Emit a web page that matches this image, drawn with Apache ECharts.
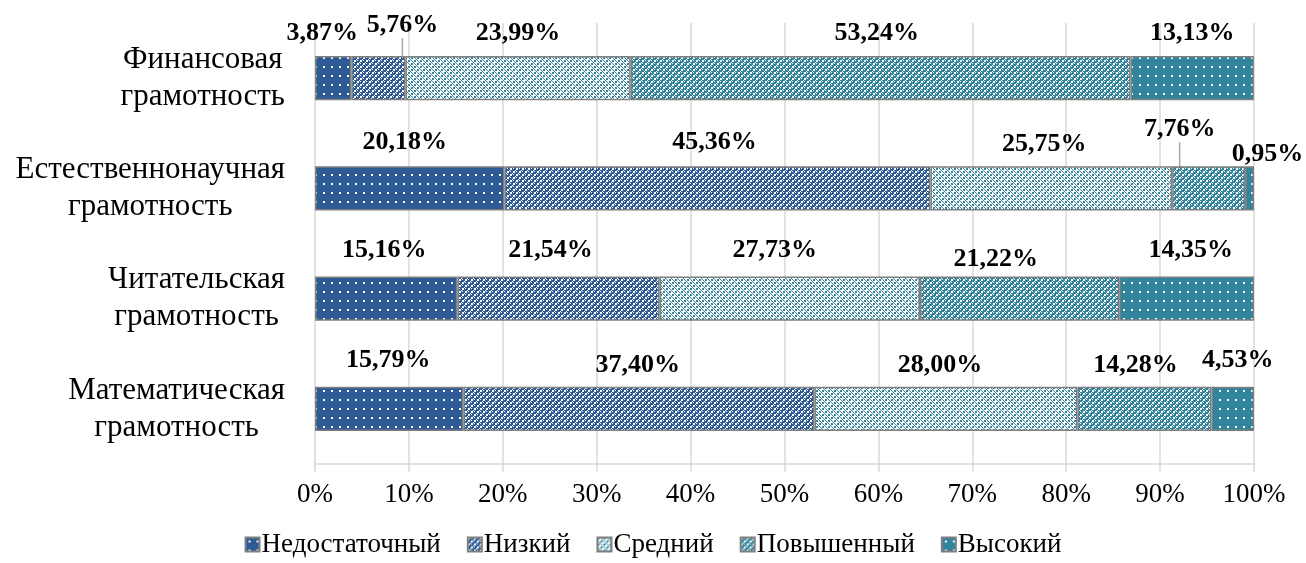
<!DOCTYPE html>
<html>
<head>
<meta charset="utf-8">
<script src="https://cdn.jsdelivr.net/npm/echarts@6/dist/echarts.min.js"></script>
<style>
  html, body { margin: 0; padding: 0; background: #fff; }
  #chart { width: 1306px; height: 563px; }
</style>
</head>
<body>
<div id="chart"></div>
<script>
// categories, top to bottom
var categories = ['Финансовая\nграмотность', 'Естественнонаучная\nграмотность', 'Читательская\nграмотность', 'Математическая\nграмотность'];
var levels = ['Недостаточный', 'Низкий', 'Средний', 'Повышенный', 'Высокий'];

// shares per level, in category order
var nedostatochny = [3.87, 20.18, 15.16, 15.79];
var nizky = [5.76, 45.36, 21.54, 37.40];
var sredny = [23.99, 25.75, 27.73, 28.00];
var povyshenny = [53.24, 7.76, 21.22, 14.28];
var vysoky = [13.13, 0.95, 14.35, 4.53];

var xTicks = [0, 10, 20, 30, 40, 50, 60, 70, 80, 90, 100];

// manual label nudges (px) as on the original, [dx, dy] per category
var labelShift = [
    [[-11, 1], [-5, 0], [-2, -2], [-1, -3]],
    [[24, -7], [-3, 0], [-8, -2], [-1, 2]],
    [[0, 1], [-7, 2], [-15, -2], [-6, 2]],
    [[-4, 1], [-29, -13], [-24, 7], [-9, 2]],
    [[0, 1], [18, 12], [4, -2], [5, -3]]
];
// labels drawn with a leader line: [level, category]
var leaderLines = [[1, 0], [3, 1]];

var FONT = 'Liberation Serif, Times New Roman, serif';

// small tiled fills like the Excel pattern fills
function tile(w, h, bg, fg, rects) {
    var c = document.createElement('canvas');
    c.width = w; c.height = h;
    var ctx = c.getContext('2d');
    ctx.fillStyle = bg;
    ctx.fillRect(0, 0, w, h);
    ctx.fillStyle = fg;
    rects.forEach(function (r) { ctx.fillRect(r[0], r[1], r[2], r[3]); });
    return { image: c, repeat: 'repeat' };
}
var lattice = [[0, 0, 2, 2], [3, 3, 2, 2], [3, 0, 1, 1], [0, 3, 1, 1], [5, 2, 1, 1], [2, 5, 1, 1]];
var latticeDense = lattice.concat([[4, 1, 1, 1], [1, 4, 1, 1]]);
var dot = [[3, 3, 2, 2]];
var fills = [
    tile(8, 9, '#2E5B95', '#ffffff', dot),
    tile(6, 6, '#2E5B95', '#ffffff', lattice),
    tile(6, 6, '#ffffff', '#31849B', latticeDense),
    tile(6, 6, '#31849B', '#ffffff', lattice),
    tile(8, 9, '#31849B', '#ffffff', dot)
];

var seriesData = [nedostatochny, nizky, sredny, povyshenny, vysoky];

var series = seriesData.map(function (vals, si) {
    return {
        name: levels[si],
        type: 'bar',
        stack: 'total',
        barWidth: '40%',
        itemStyle: {
            color: fills[si],
            borderColor: '#7F7F7F',
            borderWidth: 1.5
        },
        label: {
            show: true,
            position: 'top',
            distance: 11,
            fontFamily: FONT,
            fontWeight: 'bold',
            fontSize: 26,
            color: '#000',
            formatter: function (p) {
                return p.value.toFixed(2).replace('.', ',') + '%';
            }
        },
        labelLine: {
            show: false,
            lineStyle: { color: '#A6A6A6', width: 1.5 }
        },
        labelLayout: function (p) {
            var s = labelShift[p.seriesIndex][p.dataIndex];
            return { dx: s[0], dy: s[1] };
        },
        data: vals.map(function (v, ci) {
            var item = { value: v };
            leaderLines.forEach(function (ll) {
                if (ll[0] === si && ll[1] === ci) {
                    item.labelLine = { show: true, lineStyle: { color: '#A6A6A6', width: 1.5 } };
                }
            });
            return item;
        })
    };
});

var myChart = echarts.init(document.getElementById('chart'));
myChart.setOption({
    animation: false,
    grid: {
        left: 315,
        right: 52,
        top: 23,
        bottom: 99
    },
    legend: {
        data: levels,
        bottom: 0,
        left: 'center',
        icon: 'rect',
        itemWidth: 14,
        itemHeight: 14,
        itemGap: 26,
        textStyle: {
            fontFamily: FONT,
            fontSize: 27,
            color: '#000',
            padding: [0, 0, 0, -3]
        }
    },
    xAxis: {
        type: 'value',
        min: 0,
        max: 100,
        interval: 10,
        axisLine: { show: true, lineStyle: { color: '#D9D9D9', width: 1.5 } },
        axisTick: { show: true, length: 8, lineStyle: { color: '#D9D9D9', width: 1.5 } },
        splitLine: { show: true, lineStyle: { color: '#D9D9D9', width: 1.5 } },
        axisLabel: {
            margin: 17,
            fontFamily: FONT,
            fontSize: 27,
            color: '#000',
            formatter: function (v) {
                return xTicks.indexOf(v) >= 0 ? v + '%' : '';
            }
        }
    },
    yAxis: {
        type: 'category',
        inverse: true,
        data: categories,
        axisLine: { show: false },
        axisTick: { show: false },
        axisLabel: {
            margin: 30,
            align: 'right',
            fontFamily: FONT,
            fontSize: 31,
            color: '#000',
            lineHeight: 37,
            formatter: function (v) {
                return v.split('\n').map(function (line) { return '{c|' + line + '}'; }).join('\n');
            },
            rich: {
                c: { align: 'center', fontFamily: FONT, fontSize: 31, color: '#000', lineHeight: 37 }
            }
        }
    },
    series: series
});
</script>
</body>
</html>
